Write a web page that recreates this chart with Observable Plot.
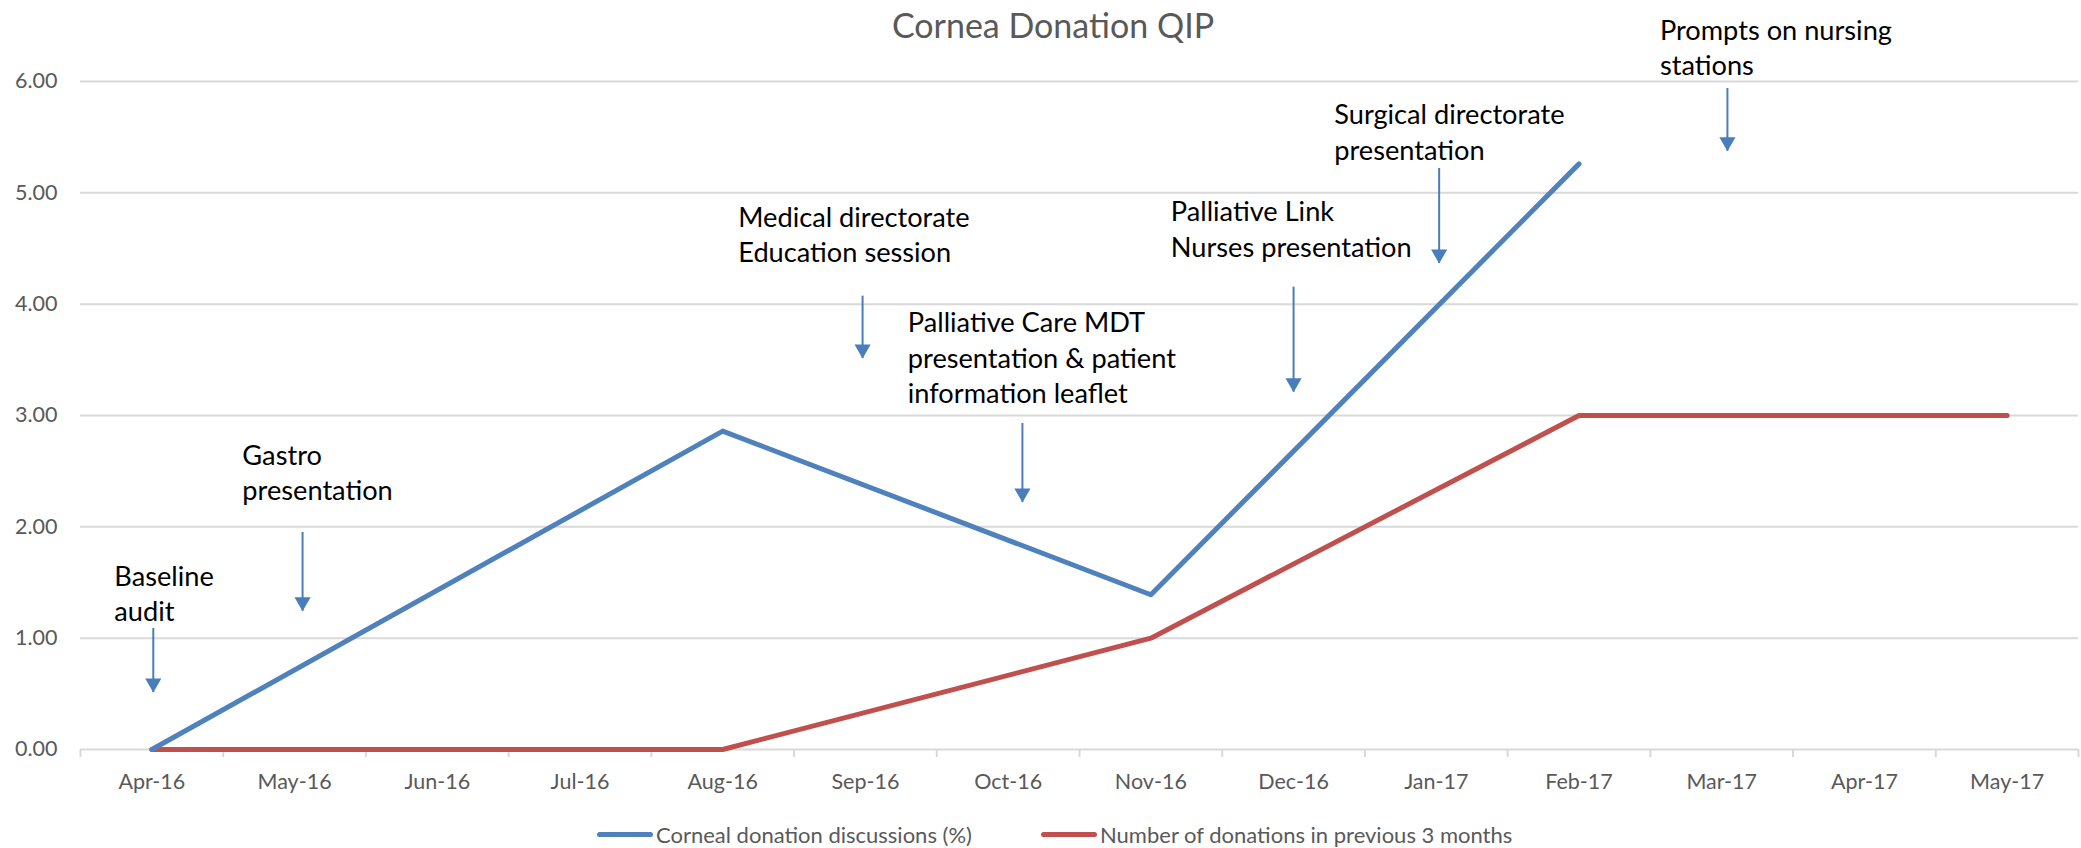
<!DOCTYPE html>
<html>
<head>
<meta charset="utf-8">
<script src="https://cdn.jsdelivr.net/npm/d3@7"></script>
<script src="https://cdn.jsdelivr.net/npm/@observablehq/plot@0.6"></script>
<style>
  html, body { margin: 0; padding: 0; background: #fff; }
  #wrap { position: relative; width: 2081px; }
  #title { position: absolute; top: 8px; left: 1053px; transform: translateX(-50%);
           font-family: Lato, sans-serif; font-size: 34px; line-height: 34px; color: #595959; white-space: nowrap; }
  #legend { position: relative; width: 2081px; height: 40px; font-family: Lato, sans-serif;
            font-size: 22px; color: #595959; }
  .item { position: absolute; top: 0; height: 52px; display: flex; align-items: center; white-space: nowrap; }
  .sw { display: inline-block; width: 56px; height: 5px; border-radius: 3px; margin-right: 3px; }
</style>
</head>
<body>
<div id="wrap">
  <div id="chart"></div>
  <div id="title"></div>
  <div id="legend"></div>
</div>
<script>
// ---- data ----
const months = ["Apr-16","May-16","Jun-16","Jul-16","Aug-16","Sep-16","Oct-16","Nov-16","Dec-16","Jan-17","Feb-17","Mar-17","Apr-17","May-17"];
const discussionMonths = ["Apr-16","Aug-16","Nov-16","Feb-17"];
const discussionValues = [0, 2.86, 1.39, 5.26];
const donationMonths = ["Apr-16","May-16","Jun-16","Jul-16","Aug-16","Nov-16","Feb-17","Mar-17","Apr-17","May-17"];
const donationValues = [0, 0, 0, 0, 0, 1, 3, 3, 3, 3];
const yTicks = [0, 1, 2, 3, 4, 5, 6];
const seriesNames = ["Corneal donation discussions (%)", "Number of donations in previous 3 months"];
const seriesColors = ["#4F81BD", "#C0504D"];
const titleText = "Cornea Donation QIP";

// annotations (month index / value units)
const noteLabels = ["Baseline\naudit", "Gastro\npresentation", "Medical directorate\nEducation session",
  "Palliative Care MDT\npresentation & patient\ninformation leaflet", "Palliative Link\nNurses presentation",
  "Surgical directorate\npresentation", "Prompts on nursing\nstations"];
const noteArrowMonth = [0.01, 1.056, 4.98, 6.10, 8.0, 9.02, 11.04];
const noteArrowTop = [1.087, 1.949, 4.072, 2.928, 4.153, 5.219, 5.937];
const noteArrowTip = [0.512, 1.242, 3.512, 2.219, 3.209, 4.365, 5.374];
const noteTextMonth = [-0.263, 0.634, 4.109, 5.297, 7.14, 8.285, 10.567];
const noteTextY = [1.152, 2.237, 4.379, 3.112, 4.428, 5.297, 6.054];

// ---- build ----
const idx = m => months.indexOf(m);
const discussion = discussionMonths.map((m, i) => ({x: idx(m), y: discussionValues[i]}));
const donations = donationMonths.map((m, i) => ({x: idx(m), y: donationValues[i]}));
const notes = noteLabels.map((label, i) => ({
  label, ax: noteArrowMonth[i], ay1: noteArrowTop[i], ay2: noteArrowTip[i],
  tx: noteTextMonth[i], ty: noteTextY[i]
}));
const bounds = d3.range(months.length + 1).map(i => i - 0.5);
const arrowColor = "#4A7EBB";

const chart = Plot.plot({
  width: 2081,
  height: 808,
  marginTop: 81,
  marginBottom: 59,
  marginLeft: 80,
  marginRight: 3,
  x: {type: "linear", domain: [-0.5, months.length - 0.5], axis: null},
  y: {domain: [0, 6], axis: null},
  style: {fontFamily: "Lato, sans-serif", background: "white", overflow: "visible"},
  marks: [
    Plot.gridY(yTicks.filter(v => v > 0), {stroke: "#d9d9d9", strokeWidth: 2, strokeOpacity: 1}),
    Plot.ruleY([0], {stroke: "#d9d9d9", strokeWidth: 2}),
    Plot.axisX(bounds, {tickSize: 8, tickFormat: () => "", stroke: "#d9d9d9", strokeWidth: 2, strokeOpacity: 1, label: null}),
    Plot.axisX(d3.range(months.length), {tickSize: 0, tickPadding: 24, tickFormat: i => months[i],
      fontSize: 21.5, color: "#595959", label: null}),
    Plot.axisY(yTicks, {tickSize: 0, tickPadding: 23, tickFormat: d3.format(".2f"),
      fontSize: 21.5, color: "#595959", label: null}),
    Plot.line(donations, {x: "x", y: "y", stroke: seriesColors[1], strokeWidth: 5, strokeLinejoin: "round", strokeLinecap: "round"}),
    Plot.line(discussion, {x: "x", y: "y", stroke: seriesColors[0], strokeWidth: 5, strokeLinejoin: "round", strokeLinecap: "round"}),
    Plot.ruleX(notes, {x: "ax", y1: "ay1", y2: "ay2", stroke: arrowColor, strokeWidth: 2}),
    Plot.dot(notes, {x: "ax", y: "ay2", symbol: "triangle", r: 6, rotate: 180, fill: arrowColor, stroke: null, dy: -9.3}),
    Plot.text(notes, {x: "tx", y: "ty", text: "label", textAnchor: "start", lineAnchor: "bottom",
      lineHeight: 1.3, fontSize: 27.2, fill: "#000"})
  ]
});
document.getElementById("chart").appendChild(chart);
document.getElementById("title").textContent = titleText;

const legend = document.getElementById("legend");
const legendLeft = [597, 1041];
seriesNames.forEach((name, i) => {
  const item = document.createElement("div");
  item.className = "item";
  item.style.left = legendLeft[i] + "px";
  const sw = document.createElement("span");
  sw.className = "sw";
  sw.style.background = seriesColors[i];
  const t = document.createElement("span");
  t.textContent = name;
  item.appendChild(sw);
  item.appendChild(t);
  legend.appendChild(item);
});
</script>
</body>
</html>
